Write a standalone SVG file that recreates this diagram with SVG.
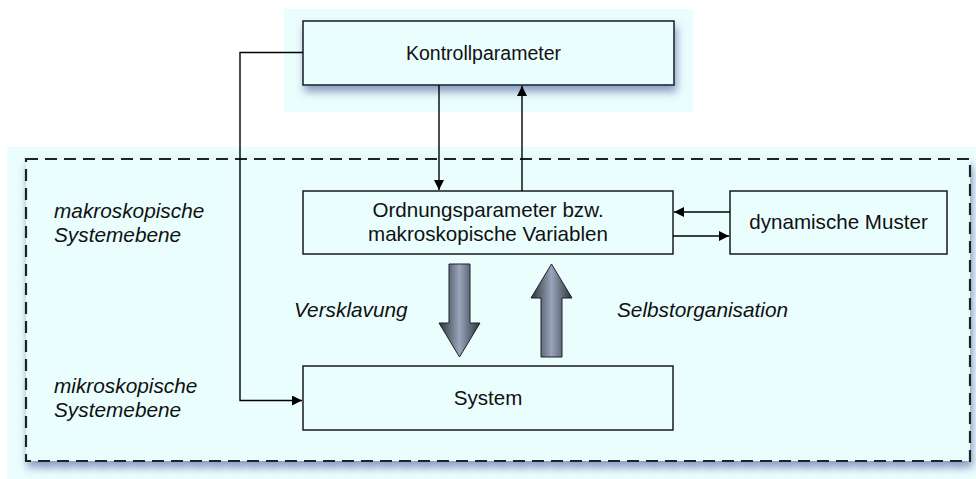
<svg xmlns="http://www.w3.org/2000/svg" width="976" height="479" viewBox="0 0 976 479">
  <defs>
    <style>
      .box { fill: #ebfefe; stroke: #1a1a1a; stroke-width: 1.5; }
      .lbl { font-family: "Liberation Sans", Arial, Helvetica, sans-serif; font-size: 20.6px; fill: #111; }
      .it { font-style: italic; font-size: 20.8px; }
      .small { font-size: 19.5px; }
      .wire { fill: none; stroke: #000; stroke-width: 1.4; }
      .band { fill: #eafefe; }
    </style>
    <marker id="head" viewBox="0 0 10 10" refX="10" refY="5" markerWidth="13" markerHeight="10" markerUnits="userSpaceOnUse" orient="auto">
      <path d="M0,0 L10,5 L0,10 Z" fill="#000"/>
    </marker>
    <filter id="shadow" x="-10%" y="-20%" width="125%" height="160%">
      <feGaussianBlur in="SourceAlpha" stdDeviation="4"/>
      <feOffset dx="2" dy="6" result="b"/>
      <feFlood flood-color="#4a5a9a" flood-opacity="0.6"/>
      <feComposite in2="b" operator="in"/>
      <feMerge><feMergeNode/><feMergeNode in="SourceGraphic"/></feMerge>
    </filter>
    <linearGradient id="steel" x1="0" y1="0" x2="1" y2="0">
      <stop offset="0" stop-color="#2c313c"/>
      <stop offset="0.5" stop-color="#9aa5bb"/>
      <stop offset="1" stop-color="#2c313c"/>
    </linearGradient>
  </defs>

  <!-- highlighted bands -->
  <rect class="band" x="284" y="9" width="409" height="103"/>
  <rect class="band" x="7" y="147" width="969" height="332"/>

  <!-- system boundary -->
  <g id="boundary">
    <rect x="26" y="159" width="944" height="302" fill="#eafefe" stroke="#222" stroke-width="2.2" stroke-dasharray="12,7" filter="url(#shadow)"/>
  </g>

  <!-- level labels -->
  <g id="levels">
    <text class="lbl it" x="54" y="218">makroskopische</text>
    <text class="lbl it" x="54" y="242">Systemebene</text>
    <text class="lbl it" x="54" y="393">mikroskopische</text>
    <text class="lbl it" x="54" y="417">Systemebene</text>
  </g>

  <g id="kontrollparameter">
    <rect class="box" x="303" y="21" width="371" height="64" filter="url(#shadow)"/>
    <text class="lbl small" x="483.5" y="60" text-anchor="middle">Kontrollparameter</text>
  </g>

  <g id="ordnungsparameter">
    <rect class="box" x="303" y="191" width="370" height="63"/>
    <text class="lbl" x="488" y="217" text-anchor="middle">Ordnungsparameter bzw.</text>
    <text class="lbl" x="488" y="241" text-anchor="middle">makroskopische Variablen</text>
  </g>

  <g id="muster">
    <rect class="box" x="730" y="191" width="217" height="63"/>
    <text class="lbl" x="838.5" y="229" text-anchor="middle">dynamische Muster</text>
  </g>

  <g id="system">
    <rect class="box" x="303" y="366" width="370" height="64"/>
    <text class="lbl" x="488" y="405" text-anchor="middle">System</text>
  </g>

  <g id="processes">
    <text class="lbl it" x="294" y="317">Versklavung</text>
    <text class="lbl it" x="617" y="317">Selbstorganisation</text>
  </g>

  <g id="connectors">
    <path class="wire" d="M303,52.5 H240 V400.5 H302" marker-end="url(#head)"/>
    <path class="wire" d="M439,85 V190" marker-end="url(#head)"/>
    <path class="wire" d="M522,191 V86" marker-end="url(#head)"/>
    <path class="wire" d="M730,212 H674" marker-end="url(#head)"/>
    <path class="wire" d="M673,236 H729" marker-end="url(#head)"/>
    <!-- block arrows between the levels -->
    <path d="M449,264 H470 V323 H480 L459.5,357 L439,323 H449 Z" fill="url(#steel)" stroke="#1e2028" stroke-width="1"/>
    <path d="M541,357 H562 V298 H572 L551.5,264 L531,298 H541 Z" fill="url(#steel)" stroke="#1e2028" stroke-width="1"/>
  </g>
</svg>
